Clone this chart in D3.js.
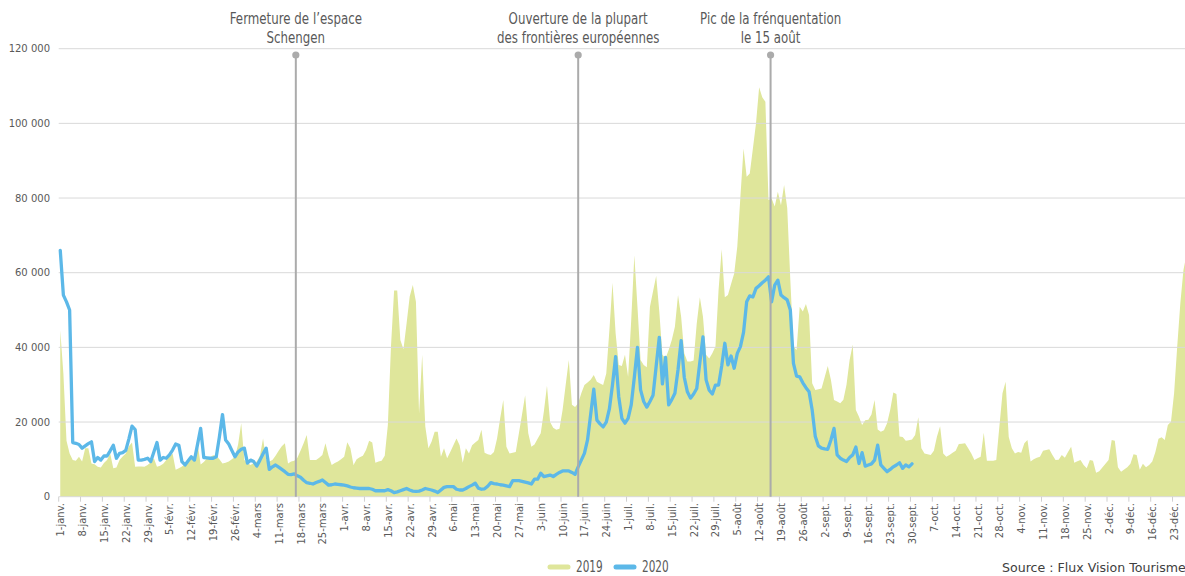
<!DOCTYPE html>
<html>
<head>
<meta charset="utf-8">
<script src="https://cdn.jsdelivr.net/npm/d3@7"></script>
<style>
  html, body { margin: 0; padding: 0; background: #ffffff; overflow: hidden; }
  svg { display: block; }
</style>
</head>
<body>
<svg id="chart" width="1185" height="576"></svg>
<script>
// ---- DATA (values in thousands of visitors, one value per day from 1 January) ----
const tickLabels = [
  "1-janv.","8-janv.","15-janv.","22-janv.","29-janv.",
  "5-févr.","12-févr.","19-févr.","26-févr.",
  "4-mars","11-mars","18-mars","25-mars",
  "1-avr.","8-avr.","15-avr.","22-avr.","29-avr.",
  "6-mai","13-mai","20-mai","27-mai",
  "3-juin","10-juin","17-juin","24-juin",
  "1-juil.","8-juil.","15-juil.","22-juil.","29-juil.",
  "5-août","12-août","19-août","26-août",
  "2-sept.","9-sept.","16-sept.","23-sept.","30-sept.",
  "7-oct.","14-oct.","21-oct.","28-oct.",
  "4-nov.","11-nov.","18-nov.","25-nov.",
  "2-déc.","9-déc.","16-déc.","23-déc."
];
const tickStep = 7;      // one label every 7 days
const dayCount = 366;    // categories on the axis (calendar 2020)

const v2019 = [
  44.6,33,15,11.6,9.8,9.6,10.7,9.4,13,13,
  8.9,8.7,8,7.8,9,9.8,11.6,7.6,7.8,9.8,
  10.8,11.6,13.5,14.5,8,8.1,8.1,8,8.5,9.2,
  10.3,8,8.3,8.8,9.8,10.7,11.6,7.2,7.6,8.1,
  8.7,9.5,10.3,11,14.3,8.6,9.3,10.2,10.6,11.1,
  11,10,8.9,9.1,9.4,10,10.7,14,19.7,9.8,
  9,8.5,9,9.4,11,15.6,9.8,9.4,9.8,11,
  12.3,13.5,14.3,8.9,9.4,9.6,10.4,12.3,14.3,16.5,
  9.8,9.8,9.8,10.4,11.2,14.3,11,8.5,9,9.4,
  10,10.7,14.6,13,8.5,10,10.6,11,12.5,15,
  14.5,9.1,9.4,9.6,11,19.2,40.2,55.2,55.2,42,
  39.5,46.4,53.6,56.7,52.2,22.3,38,18.8,13,14.7,
  17.4,17.4,10.7,13,10.3,12,13.8,15.6,13.8,9.1,
  13,11.6,13.8,14.5,15.2,17.9,11.8,11.4,11.2,12,
  15.6,21,25.9,13.4,11.6,11.8,12,17,22,27.2,
  17,13.4,14,15.5,17,22.8,29.7,20,18.5,17.9,
  18.2,23.2,30,36.6,24.6,24,25,27.7,29.9,30.6,
  31.3,32.6,30.8,30.3,29.9,33,44.6,57.3,43.8,35.3,
  35,38,32.1,47.3,64.7,50.9,36.6,35.3,34.7,50.9,
  55,59.1,49.6,38,37.1,39.3,42,45.5,54,48.2,
  38.4,36.2,36.2,36.5,46.4,53.4,48.2,38,37,38.4,
  40.2,55.4,66.3,53.4,54,57,59.8,67,80.4,93.3,
  85.7,86.6,93.3,100,109.7,107,105.8,79.5,79.9,77.7,
  81.7,78.1,83.5,77.3,58,40.2,39.3,50.9,49.6,51.6,
  48.7,30.4,28.6,28.8,29,32,35,31.3,25.9,25.5,
  25,26,30,36.6,40.8,23.2,21.4,19.2,20.5,20.6,
  22,25.9,18,17.4,17.8,19.7,23.2,27.9,27.5,16.1,
  16,15,15.1,15.3,16.5,21.3,13,11.6,11.4,11.2,
  12.3,16.1,18.9,11.6,10.7,11.2,11.8,12.3,14.1,14.2,
  14.3,13,11.6,9.8,10.3,10.7,17.1,9.6,9.6,9.6,
  9.8,18.8,27.7,30.8,16,13,11.6,12,11.8,14.3,
  15.2,9.4,10,10.4,10.7,12.3,12.5,12.7,11.2,9.8,
  9.9,11.2,10.4,12,13.4,9.1,9.5,9.8,8.5,7.6,
  9.8,9.6,6.4,6.8,7.8,8.8,9.8,15.2,15,7.9,
  6.7,7.3,7.9,8.8,11.4,11.2,7.2,8.8,7.9,8.5,
  9.4,12,15.5,15.9,15.2,19.2,20.1,27.7,40.2,51.8,
  60.7,65
];

const v2020 = [
  66,54,52.2,50,14.5,14.3,14,13,13.6,14.2,
  14.7,9.4,10.5,9.8,10.9,10.9,12.3,13.8,10.3,11.6,
  11.8,12.4,15.5,18.9,18,9.8,9.8,10,10.3,9.4,
  12,14.5,9.8,10.5,10.3,11.2,12.5,14.1,13.8,9.4,
  8.5,9.6,10.7,9.8,14,18.3,10.5,10.4,10.3,10.3,
  10.7,16,22,15.2,14.1,12.4,10.7,12,12.7,13,
  9,9.8,9.4,8.2,9.8,11.5,13,7.3,8,8.5,
  7.9,7.3,6.7,6,5.9,6.1,5.6,5.2,4.4,3.75,
  3.6,3.4,3.8,4.1,4.5,3.8,3.1,3.2,3.4,3.3,
  3.2,3.1,2.9,2.6,2.4,2.3,2.2,2.2,2.2,2.2,
  2,1.6,1.6,1.6,1.6,1.9,1.6,1.1,1.3,1.6,
  1.9,2.2,1.8,1.5,1.4,1.5,1.8,2.2,2,1.8,
  1.5,1.1,1.8,2.5,2.7,2.7,2.7,2,1.8,1.8,
  2.2,2.7,3.1,3.6,2.3,2,2.1,2.8,3.75,3.5,
  3.4,3.2,3.1,2.9,2.7,4.3,4.3,4.3,4.1,3.9,
  3.7,3.4,4.7,4.7,6.3,5.4,5.6,5.8,5.4,6,
  6.5,6.9,6.9,6.9,6.5,6,8,9.8,11.6,15.2,
  22,28.8,20.5,19.5,18.7,20,23.5,30,37.5,26.8,
  21,19.7,21,24.6,32,40,28.6,25.5,24,25.5,
  27.2,35,42.7,30.2,37.3,24.6,26,27.7,34,41.8,
  32,28.1,26.4,27.5,29,36,42.8,31.3,28.5,27.5,
  29.9,29.9,35,41.1,35.3,37.7,34.4,38.4,40.2,44,
  52.2,53.8,53.5,55.8,56.5,57.3,58,58.9,52.2,56.7,
  58,54,53.3,52.7,50,35.7,32.3,32.1,30.5,29.2,
  28.1,23.2,16.1,13.6,13,12.8,12.7,15.2,18.3,11.2,
  10.3,9.8,9.4,10.5,11.2,13.3,8.9,11.8,8.2,8.5,
  8.8,9.8,13.8,8.5,7.6,6.7,7.3,8,8.5,9.1,
  7.6,8.5,8,8.8
];

const yTicks = [0, 20, 40, 60, 80, 100, 120];
const yTickLabels = ["0", "20 000", "40 000", "60 000", "80 000", "100 000", "120 000"];

const annotations = [
  { date: "2020-03-16T12:00", lines: ["Fermeture de l\u2019espace", "Schengen"] },
  { date: "2020-06-15T00:00", lines: ["Ouverture de la plupart", "des frontières européennes"] },
  { date: "2020-08-15T16:00", lines: ["Pic de la frénquentation", "le 15 août"] }
];

const seriesNames = ["2019", "2020"];
const sourceText = "Source : Flux Vision Tourisme";

// ---- LAYOUT ----
const svg = d3.select("#chart");
const left = 58.7, dayW = 3.12;
const x = d3.scaleLinear().domain([-0.5, dayCount - 0.5]).range([left, left + dayCount * dayW]);
const y = d3.scaleLinear().domain([0, 120]).range([496.7, 48.7]);

const grey = "#595959";
const areaColor = "#DFE69B";
const lineColor = "#5CB8E8";
const condensedFont = "'DejaVu Sans', sans-serif";

// 2019 area
svg.append("path")
  .datum(v2019)
  .attr("fill", areaColor)
  .attr("d", d3.area().x((d, i) => x(i)).y0(y(0)).y1(d => y(d)));

// gridlines
svg.append("g").selectAll("line").data(yTicks.filter(t => t > 0)).join("line")
  .attr("x1", left).attr("x2", 1185)
  .attr("y1", d => y(d)).attr("y2", d => y(d))
  .attr("stroke", "#D9D9D9").attr("stroke-width", 1);

// y labels
svg.append("g").selectAll("text").data(yTicks).join("text")
  .attr("x", 50).attr("y", d => y(d)).attr("dy", "0.35em")
  .attr("text-anchor", "end")
  .attr("font-family", "'DejaVu Sans', sans-serif").attr("font-size", 10)
  .attr("fill", grey)
  .text((d, i) => yTickLabels[i]);

// x axis line
svg.append("line")
  .attr("x1", left).attr("x2", 1185).attr("y1", y(0)).attr("y2", y(0))
  .attr("stroke", "#D9D9D9").attr("stroke-width", 1);

const tickIdx = tickLabels.map((l, i) => i * tickStep);
svg.append("g").selectAll("line").data(tickIdx).join("line")
  .attr("x1", d => x(d - 0.5)).attr("x2", d => x(d - 0.5))
  .attr("y1", y(0)).attr("y2", y(0) + 5)
  .attr("stroke", "#D0D0D0").attr("stroke-width", 1);

svg.append("g").selectAll("text").data(tickIdx).join("text")
  .attr("transform", d => `translate(${x(d) + 0.5},503) rotate(-90)`)
  .attr("text-anchor", "end").attr("dy", "0.35em")
  .attr("font-family", "'DejaVu Sans', sans-serif").attr("font-size", 10)
  .attr("fill", grey)
  .text((d, i) => tickLabels[i]);

// 2020 line
svg.append("path")
  .datum(v2020)
  .attr("fill", "none")
  .attr("stroke", lineColor).attr("stroke-width", 3.3)
  .attr("stroke-linejoin", "round").attr("stroke-linecap", "round")
  .attr("d", d3.line().x((d, i) => x(i)).y(d => y(d)));

// annotations
const day0 = new Date(2020, 0, 1);
const parseT = d3.timeParse("%Y-%m-%dT%H:%M");
const ann = svg.append("g").selectAll("g").data(annotations).join("g")
  .attr("transform", d => `translate(${x((parseT(d.date) - day0) / 864e5)},0)`);
ann.append("line")
  .attr("y1", 55).attr("y2", y(0))
  .attr("stroke", "#ABABAB").attr("stroke-width", 2);
ann.append("circle")
  .attr("cy", 55).attr("r", 3.6).attr("fill", "#ABABAB");
ann.selectAll("text").data(d => d.lines).join("text")
  .attr("transform", (d, i) => `translate(0,${24 + i * 19}) scale(0.74,1)`)
  .attr("text-anchor", "middle")
  .attr("font-family", condensedFont).attr("font-size", 16)
  .attr("fill", grey)
  .text(d => d);

// legend
const legend = svg.append("g");
const legItems = [
  { name: seriesNames[0], color: areaColor, x0: 550 },
  { name: seriesNames[1], color: lineColor, x0: 616 }
];
legItems.forEach(it => {
  legend.append("line")
    .attr("x1", it.x0).attr("x2", it.x0 + 18).attr("y1", 567).attr("y2", 567)
    .attr("stroke", it.color).attr("stroke-width", 5).attr("stroke-linecap", "round");
  legend.append("text")
    .attr("transform", `translate(${it.x0 + 26},572) scale(0.7,1)`)
    .attr("font-family", condensedFont).attr("font-size", 15)
    .attr("fill", grey)
    .text(it.name);
});

// source
svg.append("text")
  .attr("x", 1002).attr("y", 572)
  .attr("font-family", "'DejaVu Sans', sans-serif").attr("font-size", 12.6)
  .attr("fill", "#404040")
  .text(sourceText);
</script>
</body>
</html>
